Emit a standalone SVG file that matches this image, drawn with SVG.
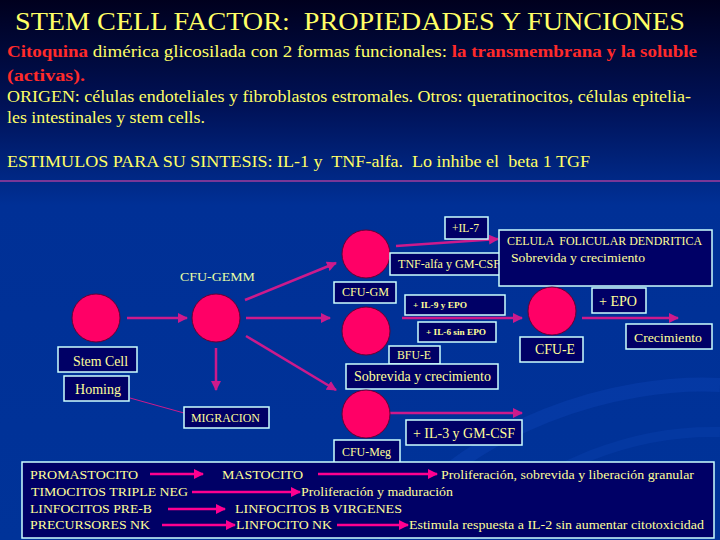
<svg xmlns="http://www.w3.org/2000/svg" width="720" height="540" viewBox="0 0 720 540">
<defs>
<linearGradient id="bg" x1="0" y1="0" x2="0" y2="1">
<stop offset="0" stop-color="#00001e"/>
<stop offset="0.2" stop-color="#001258"/>
<stop offset="0.38" stop-color="#003096"/>
<stop offset="1" stop-color="#003399"/>
</linearGradient>
<marker id="ah" viewBox="0 0 10 10" refX="9" refY="5" markerWidth="4" markerHeight="4" orient="auto" markerUnits="strokeWidth">
<path d="M0,0 L10,5 L0,10 z" fill="#cc1a8c"/>
</marker>
<marker id="ahb" viewBox="0 0 10 10" refX="9" refY="5" markerWidth="4" markerHeight="4" orient="auto" markerUnits="strokeWidth">
<path d="M0,0 L10,5 L0,10 z" fill="#ff0090"/>
</marker>
<style>
text{font-family:'Liberation Serif','DejaVu Serif','Times New Roman',serif;}
.y{fill:#ffff66;}
.r{fill:#ff2a2a;font-weight:bold;}
.box{fill:#000066;stroke:#ccffff;stroke-width:1.5;}
.lab{fill:#ffff99;white-space:pre;}
.cell{fill:#ff0066;stroke:#660033;stroke-width:1;}
.arr{stroke:#cc1a8c;stroke-width:2.5;fill:none;marker-end:url(#ah);}
.barr{stroke:#ff0090;stroke-width:2.5;fill:none;marker-end:url(#ahb);}
</style>
</defs>
<rect x="0" y="0" width="720" height="540" fill="url(#bg)"/>
<path d="M380,540 C470,420 620,380 720,385" fill="none" stroke="#0a40b0" stroke-width="14" opacity="0.5"/>
<path d="M470,540 C540,460 640,430 720,432" fill="none" stroke="#0a40b0" stroke-width="10" opacity="0.4"/>

<g id="header">
<text class="y" x="15" y="30" font-size="26" textLength="670" lengthAdjust="spacingAndGlyphs" style="white-space:pre">STEM CELL FACTOR:  PROPIEDADES Y FUNCIONES</text>
<text class="y" x="7" y="57" font-size="16" textLength="690" lengthAdjust="spacingAndGlyphs"><tspan class="r">Citoquina</tspan> dimérica glicosilada con 2 formas funcionales: <tspan class="r">la transmembrana y la soluble</tspan></text>
<text class="r" x="7" y="81" font-size="16" textLength="78" lengthAdjust="spacingAndGlyphs">(activas).</text>
<text class="y" x="7" y="102" font-size="16" textLength="684" lengthAdjust="spacingAndGlyphs">ORIGEN: células endoteliales y fibroblastos estromales. Otros: queratinocitos, células epitelia-</text>
<text class="y" x="7" y="123" font-size="16" textLength="198" lengthAdjust="spacingAndGlyphs">les intestinales y stem cells.</text>
<text class="y" x="7" y="167" font-size="16" textLength="583" lengthAdjust="spacingAndGlyphs" style="white-space:pre">ESTIMULOS PARA SU SINTESIS: IL-1 y  TNF-alfa.  Lo inhibe el  beta 1 TGF</text>
<line x1="0" y1="181" x2="720" y2="181" stroke="#a03c9c" stroke-width="1.5"/>
</g>

<g id="connectors">
<line class="arr" x1="127" y1="318" x2="187" y2="318"/>
<line class="arr" x1="246" y1="318" x2="330" y2="318"/>
<line class="arr" x1="245" y1="300" x2="336" y2="263"/>
<line class="arr" x1="246" y1="336" x2="336" y2="390"/>
<line class="arr" x1="216" y1="348" x2="216" y2="390"/>
<line class="arr" x1="396" y1="246" x2="498" y2="239"/>
<line class="arr" x1="402" y1="318" x2="522" y2="318"/>
<line class="arr" x1="582" y1="318" x2="678" y2="318"/>
<line class="arr" x1="389" y1="413" x2="522" y2="413"/>
<line x1="130" y1="398" x2="184" y2="413" stroke="#cc1a8c" stroke-width="1"/>
</g>

<g id="stem-cell">
<circle class="cell" cx="96" cy="318" r="24"/>
<rect class="box" x="58" y="347" width="79" height="25"/>
<text class="lab" x="73" y="366" font-size="14" textLength="55" lengthAdjust="spacingAndGlyphs">Stem Cell</text>
</g>
<g id="homing">
<rect class="box" x="64" y="376" width="65" height="25"/>
<text class="lab" x="75" y="394" font-size="14" textLength="46" lengthAdjust="spacingAndGlyphs">Homing</text>
</g>
<g id="cfu-gemm">
<circle class="cell" cx="216" cy="318" r="24"/>
<text x="180" y="281" font-size="13" fill="#e6ffa8" textLength="75" lengthAdjust="spacingAndGlyphs">CFU-GEMM</text>
</g>
<g id="migracion">
<rect class="box" x="184" y="407" width="85" height="21"/>
<text class="lab" x="191" y="422" font-size="12" textLength="69" lengthAdjust="spacingAndGlyphs">MIGRACION</text>
</g>
<g id="cfu-gm">
<circle class="cell" cx="366" cy="254" r="24"/>
<rect class="box" x="334" y="282" width="62" height="21"/>
<text class="lab" x="342" y="296" font-size="13" textLength="47" lengthAdjust="spacingAndGlyphs">CFU-GM</text>
</g>
<g id="il7">
<rect class="box" x="445" y="217" width="43" height="22"/>
<text class="lab" x="452" y="232" font-size="12" textLength="27" lengthAdjust="spacingAndGlyphs">+IL-7</text>
</g>
<g id="tnf">
<rect class="box" x="390" y="253" width="112" height="22"/>
<text class="lab" x="398" y="268" font-size="12" textLength="102" lengthAdjust="spacingAndGlyphs">TNF-alfa y GM-CSF</text>
</g>
<g id="celula-folicular">
<rect class="box" x="499" y="230" width="213" height="56"/>
<text class="lab" x="507" y="245" font-size="12" textLength="195" lengthAdjust="spacingAndGlyphs">CELULA  FOLICULAR DENDRITICA</text>
<text class="lab" x="511" y="262" font-size="12" textLength="134" lengthAdjust="spacingAndGlyphs">Sobrevida y crecimiento</text>
</g>
<g id="il9">
<rect class="box" x="405" y="295" width="100" height="20"/>
<text class="lab" x="413" y="308" font-size="9" font-weight="bold" textLength="54" lengthAdjust="spacingAndGlyphs">+ IL-9 y EPO</text>
</g>
<g id="il6">
<rect class="box" x="418" y="322" width="78" height="20"/>
<text class="lab" x="426" y="335" font-size="9" font-weight="bold" textLength="60" lengthAdjust="spacingAndGlyphs">+ IL-6 sin EPO</text>
</g>
<g id="bfu-e">
<circle class="cell" cx="366" cy="331" r="24"/>
<rect class="box" x="389" y="346" width="51" height="18"/>
<text class="lab" x="397" y="359" font-size="13" textLength="34" lengthAdjust="spacingAndGlyphs">BFU-E</text>
</g>
<g id="sobrevida">
<rect class="box" x="346" y="364" width="152" height="25"/>
<text class="lab" x="354" y="381" font-size="14" textLength="137" lengthAdjust="spacingAndGlyphs">Sobrevida y crecimiento</text>
</g>
<g id="cfu-e">
<circle class="cell" cx="552" cy="311" r="24"/>
<rect class="box" x="520" y="337" width="63" height="25"/>
<text class="lab" x="535" y="354" font-size="14" textLength="40" lengthAdjust="spacingAndGlyphs">CFU-E</text>
</g>
<g id="epo">
<rect class="box" x="592" y="288" width="54" height="25"/>
<text class="lab" x="599" y="306" font-size="14" textLength="38" lengthAdjust="spacingAndGlyphs">+ EPO</text>
</g>
<g id="crecimiento">
<rect class="box" x="626" y="324" width="86" height="25"/>
<text class="lab" x="634" y="342" font-size="13" textLength="68" lengthAdjust="spacingAndGlyphs">Crecimiento</text>
</g>
<g id="cfu-meg">
<circle class="cell" cx="366" cy="414" r="24"/>
<rect class="box" x="334" y="440" width="66" height="24"/>
<text class="lab" x="342" y="456" font-size="12" textLength="49" lengthAdjust="spacingAndGlyphs">CFU-Meg</text>
</g>
<g id="il3">
<rect class="box" x="406" y="420" width="116" height="25"/>
<text class="lab" x="413" y="438" font-size="14" textLength="102" lengthAdjust="spacingAndGlyphs">+ IL-3 y GM-CSF</text>
</g>

<g id="lineage-box">
<rect class="box" x="22" y="462" width="692" height="76"/>
<text class="lab" x="30" y="479" font-size="13" textLength="108" lengthAdjust="spacingAndGlyphs">PROMASTOCITO</text>
<text class="lab" x="222" y="479" font-size="13" textLength="81" lengthAdjust="spacingAndGlyphs">MASTOCITO</text>
<text class="lab" x="441" y="479" font-size="13" textLength="253" lengthAdjust="spacingAndGlyphs">Proliferación, sobrevida y liberación granular</text>
<text class="lab" x="31" y="496" font-size="13" textLength="157" lengthAdjust="spacingAndGlyphs">TIMOCITOS TRIPLE NEG</text>
<text class="lab" x="301" y="496" font-size="13" textLength="152" lengthAdjust="spacingAndGlyphs">Proliferación y maduración</text>
<text class="lab" x="30" y="513" font-size="13" textLength="122" lengthAdjust="spacingAndGlyphs">LINFOCITOS PRE-B</text>
<text class="lab" x="235" y="513" font-size="13" textLength="167" lengthAdjust="spacingAndGlyphs">LINFOCITOS B VIRGENES</text>
<text class="lab" x="30" y="529" font-size="13" textLength="120" lengthAdjust="spacingAndGlyphs">PRECURSORES NK</text>
<text class="lab" x="236" y="529" font-size="13" textLength="96" lengthAdjust="spacingAndGlyphs">LINFOCITO NK</text>
<text class="lab" x="409" y="529" font-size="13" textLength="295" lengthAdjust="spacingAndGlyphs">Estimula respuesta a IL-2 sin aumentar citotoxicidad</text>
</g>
<g id="lineage-arrows">
<line class="barr" x1="150" y1="474" x2="203" y2="474"/>
<line class="barr" x1="318" y1="474" x2="437" y2="474"/>
<line class="barr" x1="192" y1="492" x2="300" y2="492"/>
<line class="barr" x1="168" y1="509" x2="225" y2="509"/>
<line class="barr" x1="162" y1="525" x2="235" y2="525"/>
<line class="barr" x1="337" y1="525" x2="408" y2="525"/>
</g>
</svg>
